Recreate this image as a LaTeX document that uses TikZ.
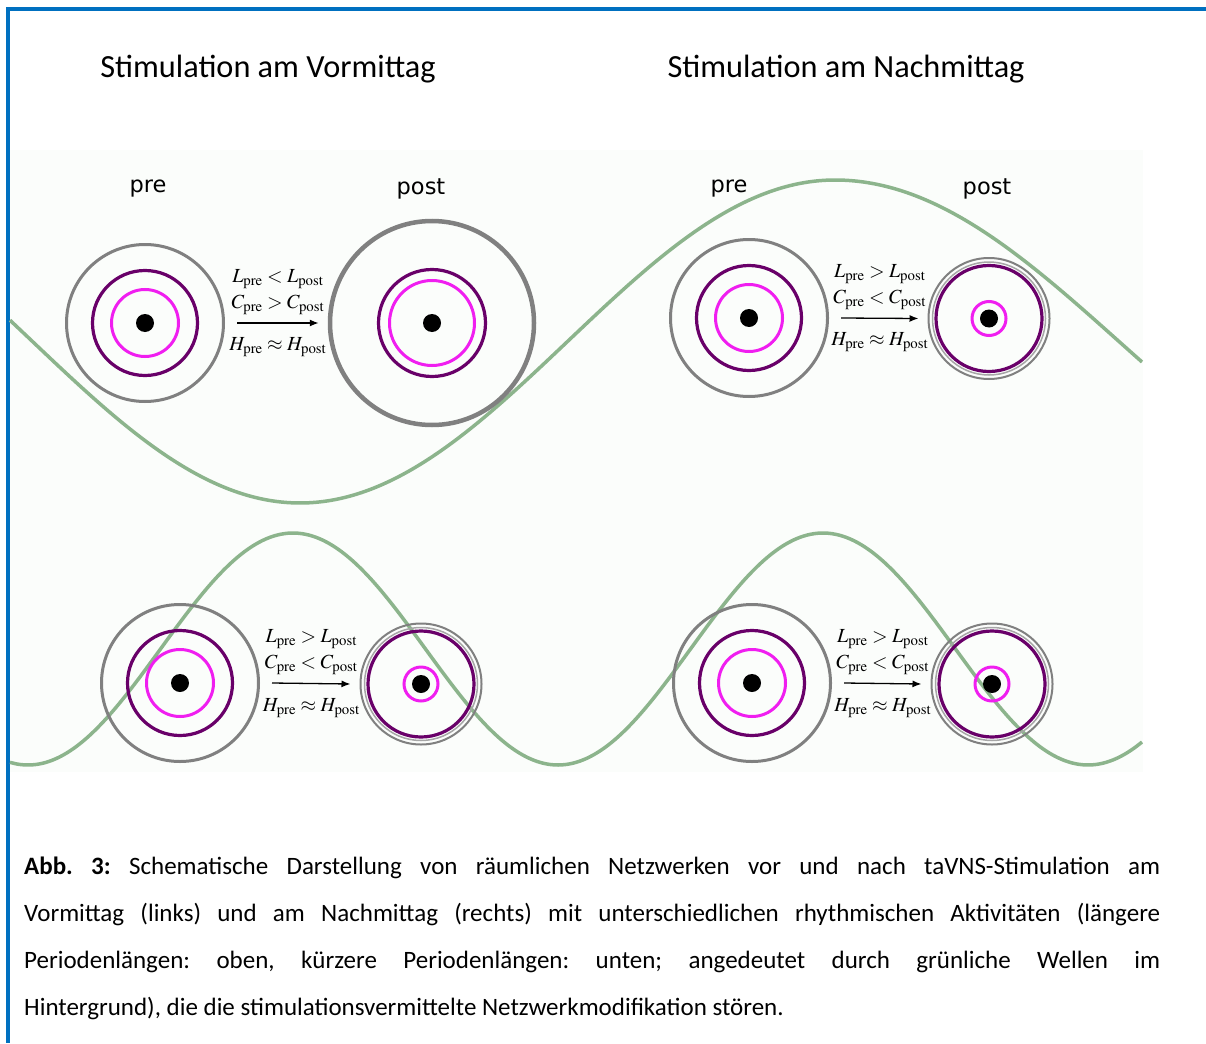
\documentclass[tikz,border=0pt]{standalone}
\usepackage{mathptmx}
\usepackage[no-math]{fontspec}
\setmainfont{Carlito}
\newfontfamily\labfont{DejaVu Sans}
\usetikzlibrary{calc,positioning,arrows.meta}

\definecolor{frameblue}{RGB}{0,112,192}
\definecolor{wavegreen}{RGB}{140,180,140}
\definecolor{ringgray}{RGB}{128,128,128}
\definecolor{ringpurple}{RGB}{105,0,105}
\definecolor{ringmagenta}{RGB}{240,30,240}
\definecolor{paper}{RGB}{251,253,251}

\tikzset{
  outerring/.style={circle, draw=ringgray, line width=3pt, inner sep=0pt},
  midring/.style={draw=ringpurple, line width=3.2pt},
  innerring/.style={draw=ringmagenta, line width=3pt},
  wave/.style={draw=wavegreen, line width=3.5pt},
  headline/.style={font=\fontsize{32.3}{36}\selectfont},
  phase/.style={font={\labfont\fontsize{22.5}{26}\selectfont}},
  relation/.style={font=\fontsize{20}{26}\selectfont, align=center, inner sep=0pt},
  captionbox/.style={text width=1136pt, align=justify, inner sep=0pt, font=\fontsize{25}{47}\selectfont},
}

\begin{document}
\begin{tikzpicture}[x=1pt,y=-1pt,>={Latex[length=9pt,width=7pt]}]
  \useasboundingbox (0,0) rectangle (1206,1043);
  % frame
  \draw[frameblue, line width=4pt] (6,9.5) -- (1206,9.5);
  \draw[frameblue, line width=4pt] (8,7.5) -- (8,1043);
  \fill[paper] (10,150) rectangle (1143,772);
  \node[headline] (titleL) at (268,69) {Stimulation am Vormittag};
  \node[headline] (titleR) at (846,69) {Stimulation am Nachmittag};
  % background rhythms
  \draw[wave] plot[domain=10:1142, samples=120, smooth]
    (\x, {341.5-161.5*cos((\x-835)/(\x<835 ? 535 : 568)*180)});
  \draw[wave] plot[domain=10:1142, samples=160, smooth]
    (\x, {649-116*cos((\x-293)*0.67925)});
  % pre networks
  \foreach \n/\cx/\cy in {tl/145/323,tr/749/318,bl/180/683,br/752/683}{
    \node[outerring, minimum size=157pt] (pre\n) at (\cx,\cy) {};
    \draw[midring] (pre\n.center) circle (52.5pt);
    \draw[innerring] (pre\n.center) circle (33.5pt);
    \fill (pre\n.center) circle (9pt);
  }
  % post networks
  \node[outerring, line width=4.5pt, minimum size=204pt] (posttl) at (432,323) {};
  \draw[midring] (posttl.center) circle (53.5pt);
  \draw[innerring] (posttl.center) circle (42.5pt);
  \fill (posttl.center) circle (9pt);
  \foreach \n/\cx/\cy in {tr/989/318.5,bl/421/684,br/992/684}{
    \node[outerring, line width=2pt, minimum size=121pt] (post\n) at (\cx,\cy) {};
    \draw[ringgray!70, line width=1.5pt] (post\n.center) circle (56.5pt);
    \draw[midring] (post\n.center) circle (53pt);
    \draw[innerring] (post\n.center) circle (17pt);
    \fill (post\n.center) circle (9pt);
  }
  \node[phase] (prelabL) at (148,189) {pre};
  \node[phase] (postlabL) at (421,189) {post};
  \node[phase] (prelabR) at (729,189) {pre};
  \node[phase] (postlabR) at (987,189) {post};
  % transitions
  \foreach \n/\ra/\rb in {tl/</>,tr/>/<,bl/>/<,br/>/<}{
    \draw[->, line width=1.3pt] ([xshift=12pt]pre\n.east) -- ([xshift=-9pt]post\n.west)
      node[relation, midway, above=8pt] (lc\n) {$L_{\mathrm{pre}} \ra L_{\mathrm{post}}$\\ $C_{\mathrm{pre}} \rb C_{\mathrm{post}}$}
      node[relation, midway, below=14pt] (h\n) {$H_{\mathrm{pre}} \approx H_{\mathrm{post}}$};
  }
  \node[captionbox, anchor=north west] (caption) at (24,857) {\hyphenpenalty=10000\frenchspacing
    \textbf{Abb. 3:} Schematische Darstellung von räumlichen Netzwerken vor und nach taVNS-Stimulation am\linebreak
    Vormittag (links) und am Nachmittag (rechts) mit unterschiedlichen rhythmischen Aktivitäten (längere\linebreak
    Periodenlängen: oben, kürzere Periodenlängen: unten; angedeutet durch grünliche Wellen im\linebreak
    Hintergrund), die die stimulationsvermittelte Netzwerkmodifikation stören.};
\end{tikzpicture}
\end{document}
